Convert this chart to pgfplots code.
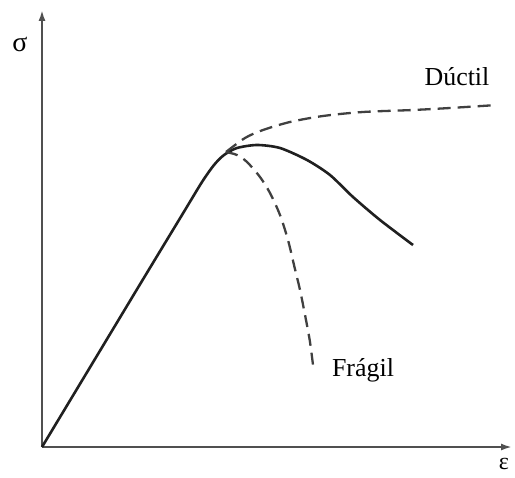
\documentclass[border=0pt]{standalone}
\usepackage{pgfplots}
\pgfplotsset{compat=1.18}
\usepackage{fontspec}
\setmainfont{Liberation Serif}
\usetikzlibrary{arrows.meta}
\definecolor{axisgray}{HTML}{505050}
\definecolor{curve}{HTML}{202020}
\definecolor{dashcurve}{HTML}{404040}
\begin{document}
\begin{tikzpicture}
\begin{axis}[
  scale only axis,
  width=470bp, height=437bp,
  xmin=0, xmax=470, ymin=0, ymax=437,
  axis lines=left,
  axis line style={axisgray, line width=2bp, -{Latex[length=11bp,width=7bp]}},
  xtick=\empty, ytick=\empty,
  clip=false,
]
% stress-strain: elastic rise and softening branch
\addplot[curve, line width=2.6bp, smooth, tension=0.45] coordinates {
  (0,0) (50,83) (100,166) (140,232) (160,265) (172,282) (182,292)
  (195,299) (215,302) (238,299) (265,287) (288,272) (311,250)
  (338,227) (371,202)
};
% ductile response
\addplot[dashcurve, line width=2.3bp, dash pattern=on 13bp off 7bp, smooth, tension=0.5] coordinates {
  (184,295) (203,309) (221,317) (248,325) (281,331) (321,335)
  (371,337) (408,339) (455,342)
};
% brittle response
\addplot[dashcurve, line width=2.3bp, dash pattern=on 12bp off 7bp, smooth, tension=0.5] coordinates {
  (184,295) (195,292) (205,285) (218,270) (228,254) (238,232)
  (246,207) (252,182) (258,157) (264,127) (268,105) (271,82)
};
\node[font=\fontsize{26}{30}\selectfont] at (axis cs:415,370) {Dúctil};
\node[font=\fontsize{26}{30}\selectfont] at (axis cs:321,77) {Frágil};
\node[font=\fontsize{28}{30}\selectfont] at (axis cs:-22,402) {σ};
\node[font=\fontsize{24}{28}\selectfont, inner sep=0pt] at (axis cs:462,-17) {ε};
\coordinate (bl) at (axis cs:-42,-30);
\coordinate (tr) at (axis cs:473,447);
\end{axis}
\pgfresetboundingbox
\path[use as bounding box] (bl) rectangle (tr);
\end{tikzpicture}
\end{document}
